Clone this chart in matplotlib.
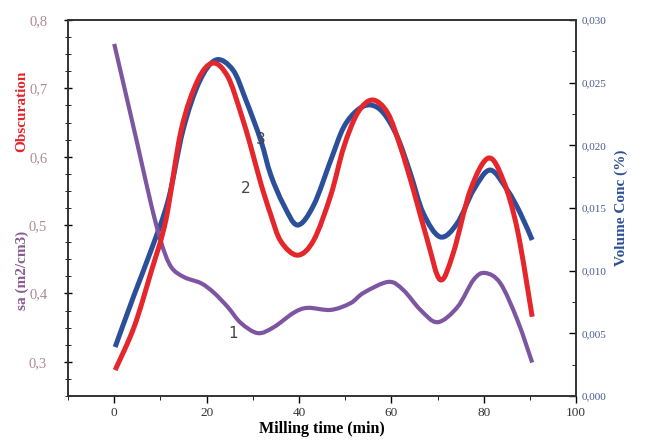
import matplotlib
matplotlib.use("Agg")
import matplotlib.pyplot as plt
from matplotlib.path import Path
from matplotlib.patches import PathPatch
from matplotlib.ticker import MultipleLocator, FuncFormatter

# milling time (min) for each curve
red_t = [0.2, 4.3, 8.0, 11.2, 14.5, 18.1, 21.4, 24.6, 27.4, 29.6, 31.7, 33.9,
         36.1, 39.7, 43.2, 46.9, 49.7, 52.7, 55.9, 59.2, 62.0, 64.8, 67.8,
         70.6, 73.4, 77.1, 81.0, 84.2, 87.3, 90.5]
obscuration = [0.288, 0.351, 0.432, 0.508, 0.639, 0.712, 0.737, 0.717, 0.664,
               0.614, 0.562, 0.515, 0.476, 0.456, 0.478, 0.544, 0.614, 0.664,
               0.683, 0.664, 0.614, 0.551, 0.478, 0.420, 0.459, 0.551, 0.598,
               0.566, 0.493, 0.366]

blue_t = [0.2, 4.3, 8.0, 11.7, 14.9, 18.4, 22.0, 25.7, 28.5, 31.7, 33.9, 36.7,
          39.7, 43.2, 46.9, 49.7, 52.7, 55.5, 58.3, 61.3, 64.1, 66.9, 70.6,
          74.3, 77.8, 81.4, 85.1, 87.9, 90.5]
vol_conc = [0.00391, 0.00806, 0.01165, 0.01564, 0.02122, 0.02505, 0.02681,
            0.02601, 0.02362, 0.02043, 0.01763, 0.01524, 0.01364, 0.01524,
            0.01883, 0.02146, 0.02282, 0.02322, 0.02258, 0.02067, 0.01779,
            0.01460, 0.01269, 0.01380, 0.01644, 0.01803, 0.01644, 0.01460,
            0.01245]

purple_t = [0.0, 4.8, 8.0, 10.2, 12.3, 15.1, 18.8, 21.6, 24.6, 27.4, 31.1, 34.6,
            38.9, 41.9, 46.9, 51.2, 54.0, 59.4, 62.6, 66.3, 70.0, 74.3, 77.8,
            80.3, 83.6, 87.3, 90.5]
ssa = [0.765, 0.625, 0.530, 0.474, 0.439, 0.424, 0.415, 0.401, 0.380, 0.357,
       0.342, 0.351, 0.372, 0.379, 0.376, 0.386, 0.401, 0.417, 0.405, 0.376,
       0.358, 0.380, 0.420, 0.430, 0.415, 0.361, 0.299]

RED = "#e5262b"
BLUE = "#2b4f98"
PURPLE = "#7d55a0"
SERIF = "Liberation Serif"


def smooth_line(ax, xs, ys, color, lw, z):
    # Catmull-Rom through the read points, drawn as cubic bezier segments
    verts = [(xs[0], ys[0])]
    codes = [Path.MOVETO]
    n = len(xs)
    for i in range(n - 1):
        x0, y0 = (xs[i - 1], ys[i - 1]) if i > 0 else (xs[i], ys[i])
        x1, y1 = xs[i], ys[i]
        x2, y2 = xs[i + 1], ys[i + 1]
        x3, y3 = (xs[i + 2], ys[i + 2]) if i + 2 < n else (x2, y2)
        verts += [(x1 + (x2 - x0) / 6, y1 + (y2 - y0) / 6),
                  (x2 - (x3 - x1) / 6, y2 - (y3 - y1) / 6),
                  (x2, y2)]
        codes += [Path.CURVE4] * 3
    ax.add_patch(PathPatch(Path(verts, codes), fill=False, edgecolor=color,
                           lw=lw, joinstyle="round", capstyle="butt", zorder=z))


fig = plt.figure(figsize=(6.48, 4.44), dpi=100)
ax = fig.add_axes([0.105, 0.108, 0.784, 0.847])
ax2 = ax.twinx()

ax.set_xlim(-10, 100)
ax.set_ylim(0.25, 0.80)
ax2.set_ylim(0.0, 0.030)

smooth_line(ax, purple_t, ssa, PURPLE, 3.0, 3)
smooth_line(ax, red_t, obscuration, RED, 3.6, 4)
smooth_line(ax2, blue_t, vol_conc, BLUE, 3.6, 3)
ax.set_zorder(2)
ax.patch.set_visible(False)

comma = lambda fmt: FuncFormatter(lambda v, p: (fmt % v).replace(".", ","))

ax.xaxis.set_major_locator(MultipleLocator(20))
ax.xaxis.set_minor_locator(MultipleLocator(10))
ax.yaxis.set_major_locator(MultipleLocator(0.1))
ax.yaxis.set_minor_locator(MultipleLocator(0.025))
ax.yaxis.set_major_formatter(comma("%.1f"))
ax2.yaxis.set_major_locator(MultipleLocator(0.005))
ax2.yaxis.set_minor_locator(MultipleLocator(0.0025))
ax2.yaxis.set_major_formatter(comma("%.3f"))

ax.tick_params(axis="x", direction="out", length=5, width=1, labelsize=9.5,
               labelcolor="#333333", pad=3)
ax.tick_params(axis="x", which="minor", direction="out", length=3)
ax.tick_params(axis="y", direction="inout", length=6, width=1, labelsize=10.5,
               labelcolor="#b08898", pad=12)
ax.tick_params(axis="y", which="minor", direction="inout", length=4)
ax2.tick_params(axis="y", direction="in", length=5, width=1, labelsize=8,
                labelcolor="#4a5c90", pad=4)
ax2.tick_params(axis="y", which="minor", direction="in", length=3)

for a in (ax, ax2):
    for s in a.spines.values():
        s.set_color("#333333")
        s.set_linewidth(1.2)
    for lab in a.get_xticklabels() + a.get_yticklabels():
        lab.set_fontfamily(SERIF)

ax.text(25.7, 0.342, "1", fontsize=11, color="#444444", ha="center", va="center")
ax.text(28.5, 0.554, "2", fontsize=11, color="#444444", ha="center", va="center")
ax.text(31.7, 0.625, "3", fontsize=11, color="#444444", ha="center", va="center")

ax.set_xlabel("Milling time (min)", fontfamily=SERIF, fontweight="bold",
              fontsize=11.5, labelpad=1)
ax2.set_ylabel("Volume Conc (%)", fontfamily=SERIF, fontweight="bold",
               fontsize=11, color=BLUE, labelpad=6)
fig.text(0.034, 0.75, "Obscuration", rotation=90, fontfamily=SERIF,
         fontweight="bold", fontsize=11, color=RED, ha="center", va="center")
fig.text(0.034, 0.39, "sa (m2/cm3)", rotation=90, fontfamily=SERIF,
         fontweight="bold", fontsize=11, color="#8a5a92", ha="center", va="center")

fig.savefig("out.png", dpi=100)
